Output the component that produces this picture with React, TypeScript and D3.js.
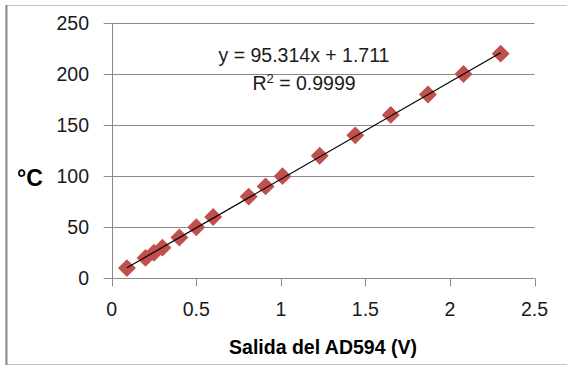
import React from "react";
import * as d3 from "d3";

const voltage = [0.09, 0.2, 0.25, 0.3, 0.4, 0.5, 0.6, 0.81, 0.91, 1.01, 1.23, 1.44, 1.65, 1.87, 2.08, 2.3];
const temperature = [10, 20, 25, 30, 40, 50, 60, 80, 90, 100, 120, 140, 160, 180, 200, 220];
const xTicks = [0, 0.5, 1, 1.5, 2, 2.5];
const yTicks = [0, 50, 100, 150, 200, 250];
const slope = 95.314;
const intercept = 1.711;
const equationLabel = "y = 95.314x + 1.711";
const r2Value = "0.9999";
const xTitle = "Salida del AD594 (V)";
const yTitle = "°C";

const W = 567;
const H = 366;
const FONT = "'Liberation Sans', Arial, sans-serif";

export default function App() {
  const x = d3.scaleLinear().domain([0, 2.5]).range([111.7, 534.5]);
  const y = d3.scaleLinear().domain([0, 250]).range([278.3, 23]);
  const diamond = d3.symbol().type(d3.symbolSquare).size(160)();
  const xMin = d3.min(voltage) as number;
  const xMax = d3.max(voltage) as number;
  const trend = d3
    .line<number>()
    .x((v) => x(v))
    .y((v) => y(slope * v + intercept))([xMin, xMax]);
  const grid = "#8a8a8a";

  return (
    <svg
      width={W}
      height={H}
      style={{ position: "absolute", left: 0, top: 0, background: "#fff" }}
      fontFamily={FONT}
    >
      {/* chart border */}
      <rect x={6} y={5.5} width={W + 10} height={359} fill="#fff" stroke="#c4c4c4" strokeWidth={1} />
      <line x1={6.5} x2={6.5} y1={5} y2={365} stroke="#8c8c8c" strokeWidth={2} />

      {/* gridlines */}
      {yTicks.map((t) => (
        <g key={"gy" + t}>
          {t > 0 && (
            <line x1={x(0)} x2={x(2.5)} y1={Math.round(y(t)) + 0.5} y2={Math.round(y(t)) + 0.5} stroke={grid} strokeWidth={1} />
          )}
          <line x1={x(0) - 8} x2={x(0)} y1={Math.round(y(t)) + 0.5} y2={Math.round(y(t)) + 0.5} stroke={grid} strokeWidth={1} />
          <text
            x={89}
            y={y(t)}
            dy="0.35em"
            textAnchor="end"
            fontSize={19.5}
            fill="#1a1a1a"
          >
            {t}
          </text>
        </g>
      ))}
      {/* axes */}
      <line x1={Math.round(x(0)) + 0.5} x2={Math.round(x(0)) + 0.5} y1={y(250)} y2={y(0)} stroke={grid} strokeWidth={1} />
      <line x1={x(0)} x2={x(2.5)} y1={Math.round(y(0)) + 0.5} y2={Math.round(y(0)) + 0.5} stroke={grid} strokeWidth={1} />
      {xTicks.map((t) => (
        <g key={"gx" + t}>
          <line x1={Math.round(x(t)) + 0.5} x2={Math.round(x(t)) + 0.5} y1={y(0)} y2={y(0) + 8} stroke={grid} strokeWidth={1} />
          <text x={x(t)} y={309} dy="0.35em" textAnchor="middle" fontSize={19.5} fill="#1a1a1a">
            {t}
          </text>
        </g>
      ))}

      {/* markers */}
      {voltage.map((v, i) => (
        <path
          key={"p" + i}
          d={diamond as string}
          transform={`translate(${x(v)},${y(temperature[i])}) rotate(45)`}
          fill="#C0504D"
        />
      ))}

      {/* trendline */}
      <path d={trend as string} stroke="#000" strokeWidth={1.2} fill="none" />

      {/* equation */}
      <text x={304} y={62} textAnchor="middle" fontSize={19.5} fill="#1a1a1a">
        {equationLabel}
      </text>
      <text x={304} y={90} textAnchor="middle" fontSize={19.5} fill="#1a1a1a">
        R<tspan fontSize={13} dy={-7}>2</tspan>
        <tspan dy={7}>{" = " + r2Value}</tspan>
      </text>

      {/* titles */}
      <text x={17} y={178} dy="0.35em" fontSize={23} fontWeight="bold" fill="#000">
        {yTitle}
      </text>
      <text x={323} y={347} dy="0.35em" textAnchor="middle" fontSize={19.5} fontWeight="bold" fill="#000">
        {xTitle}
      </text>
    </svg>
  );
}
